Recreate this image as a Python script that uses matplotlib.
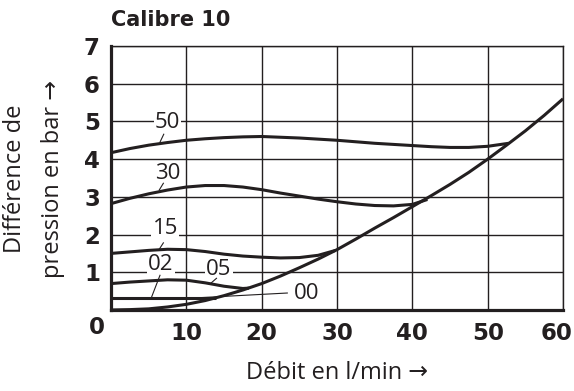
import matplotlib
matplotlib.use("Agg")
import matplotlib.pyplot as plt
from matplotlib.transforms import ScaledTranslation

# Débit (l/min) / différence de pression (bar)
flow_00 = [0, 2.5, 5, 7.5, 10, 12.5, 15, 17.5, 20, 22.5, 25, 27.5, 30, 32.5,
           35, 37.5, 40, 42.5, 45, 47.5, 50, 52.5, 55, 57.5, 60]
dp_00 = [0, 0.01, 0.03, 0.08, 0.15, 0.25, 0.38, 0.53, 0.7, 0.9, 1.12, 1.35, 1.6,
         1.88, 2.17, 2.45, 2.74, 3.03, 3.33, 3.65, 4.0, 4.37, 4.75, 5.16, 5.6]

flow_02 = [0, 6, 12, 14]
dp_02 = [0.33, 0.33, 0.33, 0.33]

flow_05 = [0, 2.5, 5, 7.5, 10, 12.5, 15, 17.5, 18.3]
dp_05 = [0.7, 0.74, 0.77, 0.8, 0.79, 0.72, 0.63, 0.57, 0.58]

flow_15 = [0, 2.5, 5, 7.5, 10, 12.5, 15, 17.5, 20, 22.5, 25, 27.5, 29.8]
dp_15 = [1.5, 1.54, 1.58, 1.61, 1.6, 1.55, 1.48, 1.43, 1.4, 1.38, 1.39, 1.45, 1.58]

flow_30 = [0, 2.5, 5, 7.5, 10, 12.5, 15, 17.5, 20, 22.5, 25, 27.5, 30, 32.5,
           35, 37.5, 40, 42]
dp_30 = [2.82, 2.96, 3.08, 3.18, 3.26, 3.3, 3.3, 3.26, 3.19, 3.1, 3.02, 2.94,
         2.87, 2.81, 2.77, 2.76, 2.8, 2.93]

flow_50 = [0, 2.5, 5, 7.5, 10, 12.5, 15, 17.5, 20, 22.5, 25, 27.5, 30, 32.5,
           35, 37.5, 40, 42.5, 45, 47.5, 50, 52.8]
dp_50 = [4.17, 4.28, 4.37, 4.44, 4.5, 4.54, 4.57, 4.59, 4.6, 4.58, 4.56, 4.53,
         4.5, 4.46, 4.42, 4.39, 4.36, 4.33, 4.31, 4.31, 4.34, 4.42]

x_ticks = [0, 10, 20, 30, 40, 50, 60]
y_ticks = [0, 1, 2, 3, 4, 5, 6, 7]

# étiquette : (texte, position du texte, début et fin du trait de rappel)
curve_labels = [
    ("50", (7.5, 4.98), (7.0, 4.66), (6.5, 4.45)),
    ("30", (7.5, 3.62), (6.95, 3.36), (6.4, 3.18)),
    ("15", (7.2, 2.15), (6.95, 1.78), (6.4, 1.61)),
    ("02", (6.6, 1.2), (6.5, 0.92), (5.4, 0.35)),
    ("05", (14.3, 1.08), (14.0, 0.84), (13.2, 0.7)),
]

ink = "#231f20"
sans = ["Open Sans", "DejaVu Sans"]
fig = plt.figure(figsize=(5.74, 3.91), dpi=100)
ax = fig.add_axes([0.1934, 0.2072, 0.7875, 0.6752])

ax.set_xlim(0, 60)
ax.set_ylim(0, 7)
ax.set_xticks(x_ticks)
ax.set_yticks(y_ticks)
ax.grid(True, color=ink, linewidth=1.0, zorder=1)
ax.tick_params(length=0, labelcolor=ink)
ax.tick_params(axis="x", pad=9)
ax.tick_params(axis="y", pad=8)

tick_font = dict(family=["Liberation Sans Narrow", "DejaVu Sans"], weight="bold", size=16.5)
ax.set_xticklabels([""] + [str(v) for v in x_ticks[1:]], **tick_font)
ax.set_yticklabels([""] + [str(v) for v in y_ticks[1:]], **tick_font)
ax.annotate("0", xy=(0, 0), xytext=(-14, -18), textcoords="offset pixels",
            ha="center", va="center", color=ink, **tick_font)
# le dernier chiffre déborde sinon du bord droit
last = ax.xaxis.get_major_ticks()[-1].label1
last.set_horizontalalignment("right")
last.set_transform(last.get_transform() + ScaledTranslation(0.09, 0, fig.dpi_scale_trans))

for side in ("top", "right"):
    ax.spines[side].set_linewidth(1.0)
    ax.spines[side].set_color(ink)
for side in ("left", "bottom"):
    ax.spines[side].set_linewidth(2.3)
    ax.spines[side].set_color(ink)

curve_style = dict(color=ink, linewidth=2.2, solid_capstyle="butt",
                   solid_joinstyle="round", zorder=3)
for fx, dp in [(flow_00, dp_00), (flow_02, dp_02), (flow_05, dp_05),
               (flow_15, dp_15), (flow_30, dp_30), (flow_50, dp_50)]:
    ax.plot(fx, dp, **curve_style)

label_font = dict(family=sans, size=16, color=ink)
for txt, pos, p0, p1 in curve_labels:
    ax.text(pos[0], pos[1], txt, ha="center", va="center", zorder=4,
            bbox=dict(boxstyle="square,pad=0.05", fc="white", ec="none"),
            **label_font)
    ax.plot([p0[0], p1[0]], [p0[1], p1[1]], color=ink, linewidth=0.8, zorder=4)

# rappel de la courbe 00
ax.plot([10.2, 23.4], [0.31, 0.45], color=ink, linewidth=0.8, zorder=2)
ax.text(25.9, 0.45, "00", ha="center", va="center", zorder=4,
        bbox=dict(boxstyle="square,pad=0.05", fc="white", ec="none"), **label_font)

fig.text(0.193, 0.948, "Calibre 10", family="DejaVu Sans", weight="bold",
         size=15, color=ink, ha="left", va="center")
fig.text(0.587, 0.045, "Débit en l/min →", family=sans,
         size=17, color=ink, ha="center", va="center")
fig.text(0.027, 0.542, "Différence de", family=sans,
         size=17, color=ink, ha="center", va="center", rotation=90)
fig.text(0.093, 0.542, "pression en bar →", family=sans,
         size=17, color=ink, ha="center", va="center", rotation=90)

fig.savefig("out.png", dpi=100)
